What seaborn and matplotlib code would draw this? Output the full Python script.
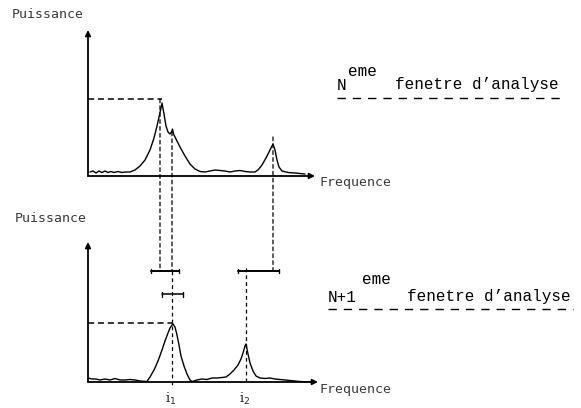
import matplotlib
matplotlib.use("Agg")
import matplotlib.pyplot as plt
import seaborn as sns
from matplotlib.lines import Line2D
from matplotlib.patches import ConnectionPatch

# ---------------- data (frequency bins, power units) ----------------
# window N spectrum
top_freq = [2, 5, 8, 11, 14, 17, 20, 23, 26, 30, 34, 38, 42,
            47, 52, 57, 62, 66, 69, 71, 73, 74,
            76, 78, 80, 82, 83.5, 84.5, 85.5, 88, 92, 97, 102, 107, 112, 117,
            122, 127, 132, 137, 142, 147, 152, 157, 162, 167,
            170, 174, 178, 181, 183, 185, 187, 189, 191, 194, 200, 207, 217]
top_power = [4, 5, 3, 5, 3.5, 5, 3.5, 4.5, 3.5, 4.5, 3.5, 4, 4,
             6, 10, 16, 26, 38, 50, 59, 68, 73,
             62, 50, 44, 42, 44, 47, 42, 37, 29, 20, 12, 7, 4.5, 4,
             5, 6, 5.5, 5, 4, 5, 5.5, 4.5, 4, 4,
             6, 11, 18, 24, 28, 32, 26, 16, 9, 5, 3.5, 3, 2]

# window N+1 spectrum
low_freq = [0, 4, 8, 12, 17, 22, 27, 32, 37, 42, 47, 52, 59,
            62, 66, 70, 74, 77, 80, 82, 84, 85,
            87, 89, 91, 93, 96, 99, 102, 104,
            109, 114, 119, 124, 129, 134, 138, 142, 146, 150, 153, 155, 157, 158,
            160, 162, 165, 168, 172, 177, 182, 187, 192, 197, 202, 207, 212, 222]
low_power = [4, 3, 3, 2, 3, 2, 3.5, 2, 2, 2.5, 2, 1, 0.5,
             5, 12, 21, 32, 41, 49, 54, 57, 58,
             55, 47, 37, 26, 16, 8, 2, 0.5,
             2, 3, 2.5, 4, 4, 4.5, 5, 8, 12, 17, 23, 29, 36, 38,
             28, 19, 11, 6, 4, 3.5, 4, 3, 2.5, 2, 1.5, 1, 0.5, 0]

# axes extents
top_axis_len = [227, 146]     # x end, y end
low_axis_len = [230, 140]

# window N: reference level and tracked peaks
top_ref_level = 77
top_ref_freq = 74
top_peak_freq = [72, 84, 185]
top_peak_level = [77, 44, 39]

# window N+1: search windows, tolerance and detected peaks
bar_level = 111
search_windows = [(63, 91), (150, 191)]
tol_level = 88
tol_window = (74, 95)
low_ref_level = 59
low_ref_freq = 85
peak_freq_labels = ["i$_1$", "i$_2$"]
peak_freqs = [84, 158]
peak_line_top = [111, 114]
peak_line_bottom = [-6, 0]

# ---------------- figure ----------------
W, H = 581, 408
sns.set_style("white")
fig = plt.figure(figsize=(W / 100, H / 100), dpi=100)

def ax_at(y_zero_px, ylo, yhi):
    top_px = y_zero_px - yhi
    bot_px = y_zero_px - ylo
    ax = fig.add_axes([83 / W, 1 - bot_px / H, 250 / W, (bot_px - top_px) / H])
    ax.set_xlim(-5, 245)
    ax.set_ylim(ylo, yhi)
    ax.axis("off")
    ax.patch.set_alpha(0)
    return ax

ax_top = ax_at(176, -110, 155)
ax_low = ax_at(382, -22, 150)

dash = (0, (4, 2.5))
vdash = (0, (3, 2.5))

def draw_axes(ax, lens):
    ap = dict(arrowstyle="-|>", lw=1.3, color="black", mutation_scale=8,
              shrinkA=0, shrinkB=0)
    ax.annotate("", xy=(0, lens[1]), xytext=(0, 0), arrowprops=ap)
    ax.annotate("", xy=(lens[0], 0), xytext=(0, 0), arrowprops=ap)

# top panel
draw_axes(ax_top, top_axis_len)
sns.lineplot(x=top_freq, y=top_power, ax=ax_top, color="black", lw=1.0,
             sort=False, estimator=None)
ax_top.plot([0, top_ref_freq], [top_ref_level, top_ref_level], color="black",
            lw=1.1, ls=dash)

# bottom panel
draw_axes(ax_low, low_axis_len)
sns.lineplot(x=low_freq, y=low_power, ax=ax_low, color="black", lw=1.0,
             sort=False, estimator=None)
ax_low.plot([0, low_ref_freq], [low_ref_level, low_ref_level], color="black",
            lw=1.1, ls=dash)

for lo, hi in search_windows:
    ax_low.plot([lo, hi], [bar_level, bar_level], color="black", lw=1.4)
    for e in (lo, hi):
        ax_low.plot([e, e], [bar_level - 2, bar_level + 2], color="black", lw=1.0)
ax_low.plot([tol_window[0], tol_window[1]], [tol_level, tol_level], color="black", lw=1.1)
for e in tol_window:
    ax_low.plot([e, e], [tol_level - 2.5, tol_level + 2.5], color="black", lw=1.0)

for f, t, b in zip(peak_freqs, peak_line_top, peak_line_bottom):
    ax_low.plot([f, f], [t, b], color="black", lw=0.9, ls=vdash)

# connectors from window N peaks to window N+1 search windows
for f, lvl in zip(top_peak_freq, top_peak_level):
    con = ConnectionPatch(xyA=(f, lvl), coordsA=ax_top.transData,
                          xyB=(f, bar_level), coordsB=ax_low.transData,
                          color="black", lw=0.9, ls=vdash)
    fig.add_artist(con)

# peak labels
for f, lab in zip(peak_freqs, peak_freq_labels):
    ax_low.text(f - 1, -17, lab, ha="center", va="center", fontsize=9.5,
                family="DejaVu Serif", clip_on=False)

# ---------------- texts ----------------
def ft(x, y, s, **kw):
    fig.text(x / W, 1 - y / H, s, ha="left", va="center", **kw)

small = dict(family="DejaVu Sans Mono", fontsize=9.5, color="#3a3a3a")
big = dict(family="Liberation Mono", fontsize=11.5, color="black")

ft(12, 15, "Puissance", **small)
ft(15, 218, "Puissance", **small)
ft(320, 183, "Frequence", **small)
ft(320, 389, "Frequence", **small)

ft(337, 85, "N", **big)
ft(348, 71, "eme", **big)
ft(395, 85, "fenetre d\u2019analyse", **big)
fig.add_artist(Line2D([337 / W, 560 / W], [1 - 98 / H, 1 - 98 / H],
                      color="black", lw=1.0, ls=(0, (6, 5))))

ft(328, 297, "N+1", **big)
ft(362, 280, "eme", **big)
ft(407, 297, "fenetre d\u2019analyse", **big)
fig.add_artist(Line2D([328 / W, 573 / W], [1 - 309 / H, 1 - 309 / H],
                      color="black", lw=1.0, ls=(0, (6, 5))))

fig.savefig("out.png", dpi=100)
